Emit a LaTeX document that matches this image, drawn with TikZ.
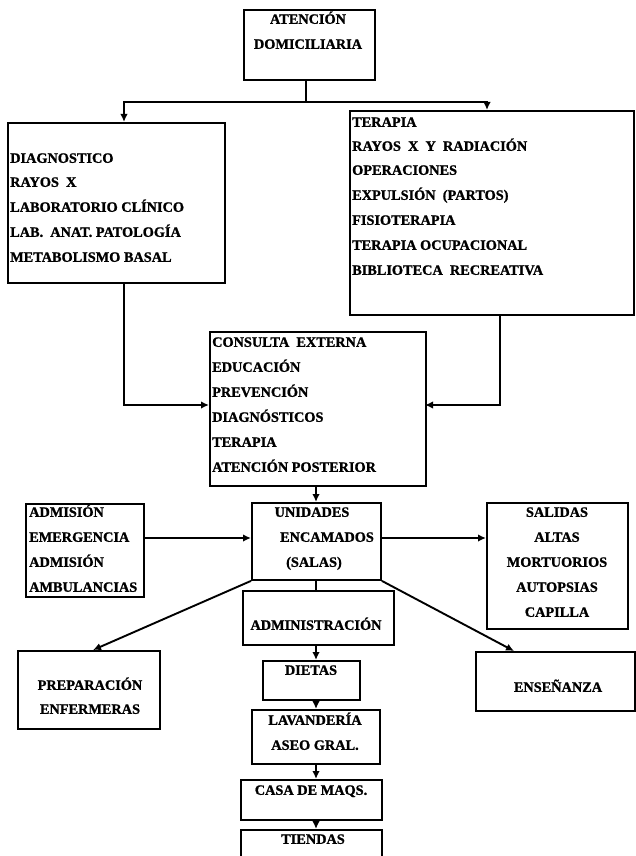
\documentclass[tikz,border=0pt]{standalone}
\usepackage{fontspec}
\setmainfont{Liberation Serif}[BoldFeatures={FakeBold=1.2}]
\usetikzlibrary{arrows.meta}
\begin{document}
\begin{tikzpicture}[x=1pt,y=-1pt,
  bx/.style={draw, line width=1.9pt, inner sep=0pt},
  tx/.style={font=\bfseries\fontsize{14.3}{17}\selectfont, text height=9.6pt, text depth=0pt, inner sep=0pt},
  tl/.style={tx, anchor=west},
  ln/.style={line width=1.9pt},
  arr/.style={line width=1.9pt, -{Latex[length=8pt,width=7.5pt]}}]
\useasboundingbox (0,0) rectangle (636,856);
\clip (0,0) rectangle (636,856);
% boxes
\node[bx, minimum width=131pt, minimum height=70pt, anchor=north west] (top) at (243,9) {};
\node[bx, minimum width=217pt, minimum height=160pt, anchor=north west] (diag) at (7,122) {};
\node[bx, minimum width=284pt, minimum height=204pt, anchor=north west] (ter) at (349,110) {};
\node[bx, minimum width=216pt, minimum height=154pt, anchor=north west] (cons) at (209,331) {};
\node[bx, minimum width=118pt, minimum height=93pt, anchor=north west] (adm) at (25,503) {};
\node[bx, minimum width=129pt, minimum height=77pt, anchor=north west] (uni) at (251,502) {};
\node[bx, minimum width=141pt, minimum height=126pt, anchor=north west] (sal) at (486,502) {};
\node[bx, minimum width=151pt, minimum height=54pt, anchor=north west] (admin) at (242,590) {};
\node[bx, minimum width=142pt, minimum height=78pt, anchor=north west] (prep) at (17,650) {};
\node[bx, minimum width=159pt, minimum height=59pt, anchor=north west] (ens) at (475,651) {};
\node[bx, minimum width=97pt, minimum height=39pt, anchor=north west] (diet) at (262,660) {};
\node[bx, minimum width=128pt, minimum height=54pt, anchor=north west] (lav) at (251,709) {};
\node[bx, minimum width=141pt, minimum height=40pt, anchor=north west] (casa) at (240,779) {};
\node[bx, minimum width=141pt, minimum height=45pt, anchor=north west] (tien) at (240,829) {};
% texts
\node[tx] (t1) at (308,19) {ATENCIÓN};
\node[tx] (t2) at (308,44) {DOMICILIARIA};
\node[tl] (d1) at (10,158) {DIAGNOSTICO};
\node[tl] (d2) at (10,182) {RAYOS\ \ X};
\node[tl] (d3) at (10,207) {LABORATORIO CLÍNICO};
\node[tl] (d4) at (10,232) {LAB.\ \ ANAT. PATOLOGÍA};
\node[tl] (d5) at (10,257) {METABOLISMO BASAL};
\node[tl] (r1) at (352,122) {TERAPIA};
\node[tl] (r2) at (352,146) {RAYOS\ \ X\ \ Y\ \ RADIACIÓN};
\node[tl] (r3) at (352,170) {OPERACIONES};
\node[tl] (r4) at (352,195) {EXPULSIÓN\ \ (PARTOS)};
\node[tl] (r5) at (352,220) {FISIOTERAPIA};
\node[tl] (r6) at (352,245) {TERAPIA OCUPACIONAL};
\node[tl] (r7) at (352,270) {BIBLIOTECA\ \ RECREATIVA};
\node[tl] (c1) at (212,342) {CONSULTA\ \ EXTERNA};
\node[tl] (c2) at (212,367) {EDUCACIÓN};
\node[tl] (c3) at (212,392) {PREVENCIÓN};
\node[tl] (c4) at (212,417) {DIAGNÓSTICOS};
\node[tl] (c5) at (212,442) {TERAPIA};
\node[tl] (c6) at (212,467) {ATENCIÓN POSTERIOR};
\node[tl] (a1) at (29,512) {ADMISIÓN};
\node[tl] (a2) at (29,537) {EMERGENCIA};
\node[tl] (a3) at (29,562) {ADMISIÓN};
\node[tl] (a4) at (29,587) {AMBULANCIAS};
\node[tx] (u1) at (312,512) {UNIDADES};
\node[tx] (u2) at (327,537) {ENCAMADOS};
\node[tx] (u3) at (314,562) {(SALAS)};
\node[tx] (s1) at (557,512) {SALIDAS};
\node[tx] (s2) at (557,537) {ALTAS};
\node[tx] (s3) at (557,562) {MORTUORIOS};
\node[tx] (s4) at (557,587) {AUTOPSIAS};
\node[tx] (s5) at (557,612) {CAPILLA};
\node[tx] (m1) at (316,625) {ADMINISTRACIÓN};
\node[tx] (p1) at (90,685) {PREPARACIÓN};
\node[tx] (p2) at (90,709) {ENFERMERAS};
\node[tx] (e1) at (558,687) {ENSEÑANZA};
\node[tx] (g1) at (311,670) {DIETAS};
\node[tx] (l1) at (315,720) {LAVANDERÍA};
\node[tx] (l2) at (315,745) {ASEO GRAL.};
\node[tx] (k1) at (311,790) {CASA DE MAQS.};
\node[tx] (n1) at (313,839) {TIENDAS};
% coordinates
\coordinate (jt) at (306,102);
\coordinate (dtop) at (124,122);
\coordinate (ttop) at (487,110);
\coordinate (dbot) at (124,282);
\coordinate (tbot) at (500,314);
\coordinate (cl) at (209,405);
\coordinate (cr) at (425,405);
\coordinate (ya) at (0,538);
\coordinate (pa) at (93,0);
\coordinate (ea) at (514,0);
\coordinate (xc) at (316,0);
% connectors
\draw[ln] (top.south -| jt) -- (jt);
\draw[arr] (jt) -| (dtop);
\draw[arr] (jt) -| (ttop);
\draw[arr] (dbot) |- (cl);
\draw[arr] (tbot) |- (cr);
\draw[arr] (cons.south -| xc) -- (uni.north -| xc);
\draw[arr] (adm.east |- ya) -- (uni.west |- ya);
\draw[arr] (uni.east |- ya) -- (sal.west |- ya);
\draw[ln] (uni.south -| xc) -- (admin.north -| xc);
\draw[arr] (uni.south west) -- (prep.north -| pa);
\draw[arr] (uni.south east) -- (ens.north -| ea);
\draw[arr] (admin.south -| xc) -- (diet.north -| xc);
\draw[arr] (diet.south -| xc) -- (lav.north -| xc);
\draw[arr] (lav.south -| xc) -- (casa.north -| xc);
\draw[arr] (casa.south -| xc) -- (tien.north -| xc);
\end{tikzpicture}
\end{document}
